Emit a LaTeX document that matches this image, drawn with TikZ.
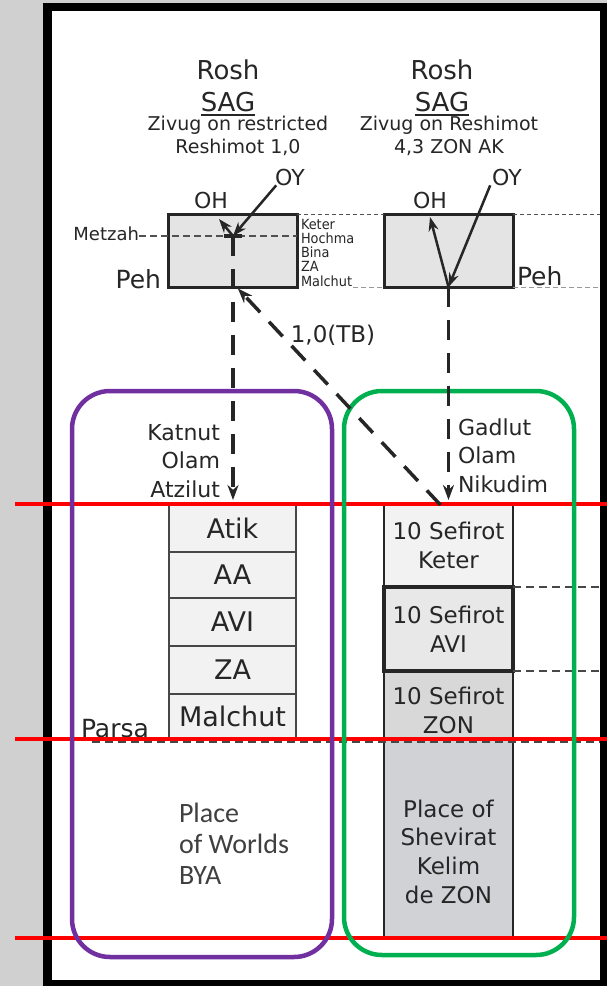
\documentclass[tikz,border=0pt]{standalone}
\usepackage{fontspec}
\setmainfont{DejaVu Sans}
\newfontfamily\calib{Carlito}
\newfontfamily\condfont[FakeStretch=0.92]{DejaVu Sans}
\usetikzlibrary{arrows.meta}
\definecolor{bggray}{HTML}{D0D0D0}
\definecolor{boxgray}{HTML}{E4E4E4}
\definecolor{cellA}{HTML}{F2F2F2}
\definecolor{cellB}{HTML}{E8E8E8}
\definecolor{cellC}{HTML}{D8D8D8}
\definecolor{cellD}{HTML}{D0D2D5}
\definecolor{katpurple}{HTML}{7030A0}
\definecolor{gadgreen}{HTML}{00B050}
\definecolor{inkgray}{HTML}{262626}
\definecolor{redline}{HTML}{FF0000}
\begin{document}
\begin{tikzpicture}[x=1pt,y=-1pt,
  txt/.style={inner sep=0pt, outer sep=0pt, text=inkgray},
  fA/.style={font=\fontsize{26}{30}\selectfont},
  fB/.style={font=\fontsize{19}{22}\selectfont},
  fC/.style={font=\fontsize{22}{26}\selectfont},
  fD/.style={font=\condfont\fontsize{14}{14}\selectfont},
  fE/.style={font=\fontsize{18}{21}\selectfont},
  fF/.style={font=\fontsize{25}{29}\selectfont},
  fG/.style={font=\fontsize{23}{29}\selectfont},
  headbox/.style={draw=inkgray, line width=3pt, fill=boxgray, minimum width=129pt, minimum height=73pt, inner sep=0pt, outer sep=0pt},
  cell/.style={draw=inkgray!85, line width=1.5pt, fill=cellA, minimum width=127pt, inner sep=0pt, outer sep=0pt, text=inkgray, font=\fontsize{27}{30}\selectfont},
  rcell/.style={draw=inkgray, line width=2pt, minimum width=129pt, inner sep=0pt, outer sep=0pt},
  guide/.style={draw=inkgray!80, line width=1pt, dash pattern=on 4pt off 3pt},
  guideB/.style={draw=inkgray!80, line width=1.3pt, dash pattern=on 7pt off 4pt},
  guideL/.style={draw=black!40, line width=1pt, dash pattern=on 5pt off 3pt},
  guideR/.style={draw=inkgray!85, line width=1.5pt, dash pattern=on 8pt off 5pt},
  solidarrow/.style={draw=inkgray, line width=2.5pt, -{Stealth[length=14pt,width=10pt]}},
  dasharrow/.style={draw=inkgray, line width=3.5pt, dash pattern=on 20pt off 13pt, -{Stealth[length=15pt,width=11pt]}},
  redrule/.style={draw=redline, line width=4pt},
  zone/.style={line width=4.5pt, rounded corners=38pt, inner sep=0pt, outer sep=0pt},
]
\useasboundingbox (0,0) rectangle (607,986);
\fill[bggray] (0,0) rectangle (607,986);
\fill[black] (43,3) rectangle (607,986);
\fill[white] (52,11) rectangle (600,980);
\coordinate (frR) at (600,0);
\coordinate (edgeR) at (607,0);

% headers
\node[txt, fA, anchor=base] (roshL) at (228,79) {Rosh};
\node[txt, fA, anchor=base] (sagL) at (228,111) {SAG};
\draw[line width=1.6pt, inkgray] ([yshift=-4pt]sagL.base west) -- ([yshift=-4pt]sagL.base east);
\node[txt, fB, anchor=base] (zivL) at (238,130) {Zivug on restricted};
\node[txt, fB, anchor=base] (reshL) at (238,153) {Reshimot 1,0};
\node[txt, fA, anchor=base] (roshR) at (442,79) {Rosh};
\node[txt, fA, anchor=base] (sagR) at (442,111) {SAG};
\draw[line width=1.6pt, inkgray] ([yshift=-4pt]sagR.base west) -- ([yshift=-4pt]sagR.base east);
\node[txt, fB, anchor=base] (zivR) at (449,130) {Zivug on Reshimot};
\node[txt, fB, anchor=base] (reshR) at (449,153) {4,3 ZON AK};

% head boxes
\node[headbox] (lbox) at (232.5,250.5) {};
\node[headbox] (rbox) at (448.5,250.5) {};
\coordinate (ljunc) at (233,236);
\coordinate (lup) at (219,219);
\coordinate (rup) at (430,217);

% guide lines
\draw[guide] (lbox.north east) -- (rbox.north west);
\draw[guide] (rbox.north east) -- (rbox.north east -| frR);
\node[txt, fE, anchor=base east] (metzah) at (139,240) {Metzah};
\draw[guideB] (metzah.east |- ljunc) -- (lbox.east |- ljunc);
\node[txt, fF, anchor=base east] (pehL) at (161,288) {Peh};
\node[txt, fF, anchor=base west] (pehR) at (517,285) {Peh};
\node[txt, fD, anchor=base west] (keterL) at (301,229) {Keter};
\node[txt, fD, anchor=base west] (hochL) at (301,243) {Hochma};
\node[txt, fD, anchor=base west] (binaL) at (301,257) {Bina};
\node[txt, fD, anchor=base west] (zaL) at (301,271) {ZA};
\node[txt, fD, anchor=base west] (malL) at (301,286) {Malchut};
\draw[guideL] ([xshift=1pt]malL.east |- lbox.south) -- (rbox.south west);
\draw[guideL] (rbox.south east) -- (rbox.south east -| frR);

% OH / OY
\node[txt, fC, anchor=base] (ohL) at (211,208) {OH};
\node[txt, fC, anchor=base] (oyL) at (290,185) {OY};
\node[txt, fC, anchor=base] (ohR) at (430,208) {OH};
\node[txt, fC, anchor=base] (oyR) at (507,185) {OY};
\draw[solidarrow] ([xshift=1pt]oyL.south west) -- (ljunc);
\draw[solidarrow] (ljunc) -- (lup);
\draw[line width=3.5pt, inkgray] ([xshift=-9pt]ljunc) -- ([xshift=9pt]ljunc);
\draw[solidarrow] ([xshift=-2pt]oyR.south west) -- (rbox.south);
\draw[solidarrow] (rbox.south) -- (rup);

% left column
\node[cell, minimum height=48pt] (atik) at (232.5,528) {Atik};
\node[cell, minimum height=46pt] (aa) at (232.5,575) {AA};
\node[cell, minimum height=48pt] (avi) at (232.5,622) {AVI};
\node[cell, minimum height=48pt] (za) at (232.5,670) {ZA};
\node[cell, minimum height=45pt] (malchut) at (232.5,716.5) {Malchut};

% right column
\node[rcell, fill=cellA, minimum height=83pt, fG, align=center, text=inkgray] (keter) at (448.5,545.5) {10 Sefirot\\Keter};
\node[rcell, fill=cellC, minimum height=68pt] (zon) at (448.5,705) {};
\node[txt, fG, align=center] (zontxt) at (448.5,710) {10 Sefirot\\ZON};
\node[rcell, fill=cellD, minimum height=199pt, line width=2.5pt] (zonlow) at (448.5,838.5) {};
\node[txt, font=\fontsize{23}{28.7}\selectfont, align=center] (zonlowtxt) at (448.5,851.5) {Place of\\Shevirat\\Kelim\\de ZON};
\node[rcell, fill=cellB, minimum height=84pt, line width=3.5pt, fG, align=center, text=inkgray] (aviR) at (448.5,629) {10 Sefirot\\AVI};
\draw[guideR] (keter.south east) -- (keter.south east -| frR);
\draw[guideR] (aviR.south east) -- (aviR.south east -| frR);

% parsa
\node[txt, fF, anchor=base west] (parsa) at (81,737) {Parsa};
\coordinate (parsaL) at (92,742);
\draw[guideR] (parsaL) -- (parsaL -| frR);

% place of worlds
\node[txt, font=\calib\fontsize{28}{31}\selectfont, align=left, anchor=west, text=black!75] (bya) at (179,843.5) {Place\\of Worlds\\BYA};

% world labels
\node[txt, fC, anchor=base east] (kat1) at (220,440) {Katnut};
\node[txt, fC, anchor=base east] (kat2) at (220,468) {Olam};
\node[txt, fC, anchor=base east] (kat3) at (220,497) {Atzilut};
\node[txt, fC, anchor=base west] (gad1) at (458,435) {Gadlut};
\node[txt, fC, anchor=base west] (gad2) at (458,463) {Olam};
\node[txt, fC, anchor=base west] (gad3) at (458,492) {Nikudim};

% red rules
\coordinate (redA) at (15,504);
\coordinate (redB) at (15,739);
\coordinate (redC) at (15,938);
\draw[redrule] (redA) -- (redA -| edgeR);
\draw[redrule] (redB) -- (redB -| edgeR);
\draw[redrule] (redC) -- (redC -| edgeR);

% zones
\node[zone, draw=katpurple, minimum width=260pt, minimum height=566pt] (katzone) at (202,674) {};
\node[zone, draw=gadgreen, minimum width=230pt, minimum height=564pt] (gadzone) at (459,673) {};

% dashed arrows (on top of zones)
\draw[dasharrow, shorten >=4pt] (ljunc) -- (ljunc |- atik.north);
\draw[dasharrow, shorten >=4pt] (rbox.south) -- (keter.north);
\draw[dasharrow, shorten >=2pt] ([xshift=-8pt,yshift=-1pt]keter.north) -- ([xshift=4pt]lbox.south);
\node[txt, fG, anchor=base] (tb) at (333,342) {1,0(TB)};
\end{tikzpicture}
\end{document}
